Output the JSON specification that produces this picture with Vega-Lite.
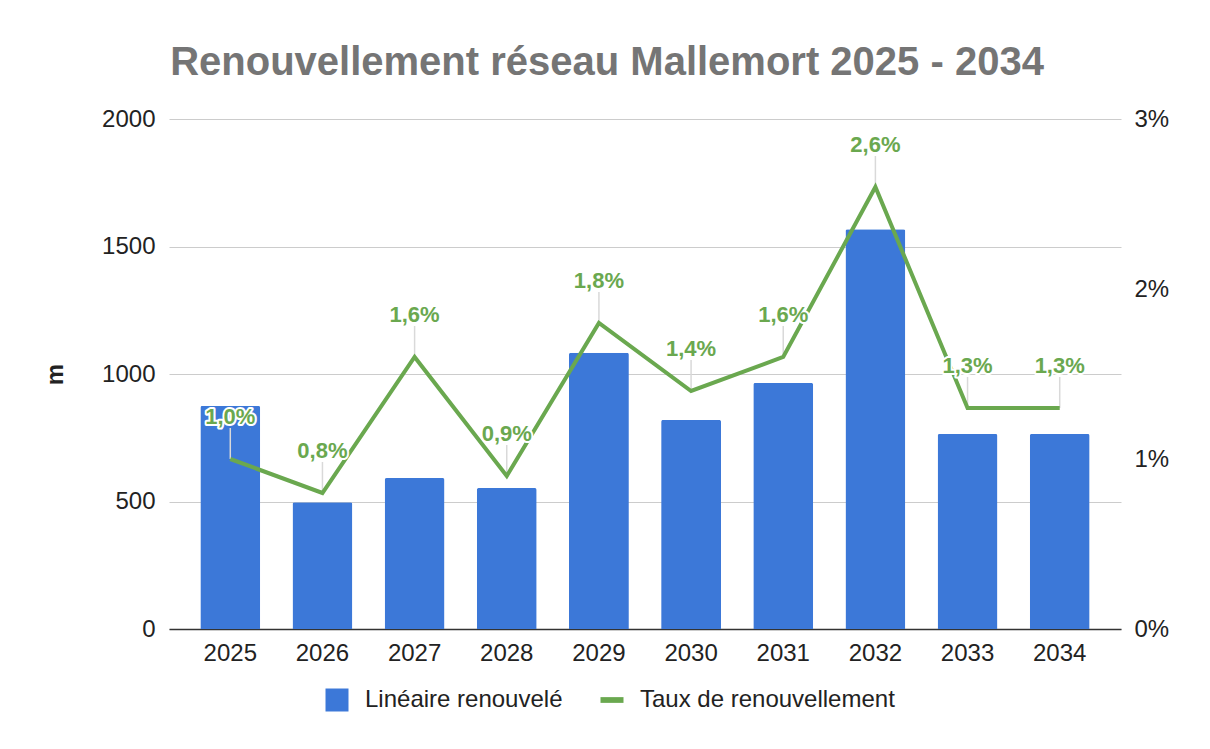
{
  "$schema": "https://vega.github.io/schema/vega-lite/v6.json",
  "width": 952,
  "height": 510,
  "autosize": {"type": "none"},
  "padding": {"left": 169, "top": 119, "right": 89, "bottom": 120},
  "background": "white",
  "title": {
    "text": "Renouvellement réseau Mallemort 2025 - 2034",
    "anchor": "middle",
    "dx": -38,
    "fontSize": 40,
    "font": "Liberation Sans",
    "fontWeight": "bold",
    "color": "#757575",
    "offset": -8,
    "baseline": "alphabetic"
  },
  "data": {
    "values": [
      {"year": "2025", "lineaire": 875, "taux": 0.010},
      {"year": "2026", "lineaire": 497, "taux": 0.008},
      {"year": "2027", "lineaire": 592, "taux": 0.016},
      {"year": "2028", "lineaire": 553, "taux": 0.009},
      {"year": "2029", "lineaire": 1083, "taux": 0.018},
      {"year": "2030", "lineaire": 820, "taux": 0.014},
      {"year": "2031", "lineaire": 965, "taux": 0.016},
      {"year": "2032", "lineaire": 1568, "taux": 0.026},
      {"year": "2033", "lineaire": 765, "taux": 0.013},
      {"year": "2034", "lineaire": 765, "taux": 0.013}
    ]
  },
  "encoding": {
    "x": {
      "field": "year",
      "type": "ordinal",
      "scale": {"paddingInner": 0.35, "paddingOuter": 0.34},
      "axis": {
        "title": null,
        "labelAngle": 0,
        "ticks": false,
        "labelPadding": 12,
        "domainColor": "#333333",
        "domainWidth": 1.5,
        "grid": false
      }
    }
  },
  "layer": [
    {
      "mark": {"type": "bar", "color": "#3c78d8", "cornerRadiusTopLeft": 2, "cornerRadiusTopRight": 2},
      "encoding": {
        "y": {
          "field": "lineaire",
          "type": "quantitative",
          "scale": {"domain": [0, 2000]},
          "axis": {
            "title": "m",
            "values": [0, 500, 1000, 1500, 2000],
            "format": "d",
            "grid": true,
            "gridColor": "#cccccc",
            "gridWidth": 1,
            "domain": false,
            "ticks": false,
            "labelPadding": 14,
            "titleFontWeight": "bold",
            "titleFontSize": 24,
            "titlePadding": 34
          }
        },
        "color": {
          "datum": "Linéaire renouvelé",
          "type": "nominal",
          "scale": {
            "domain": ["Linéaire renouvelé", "Taux de renouvellement"],
            "range": ["#3c78d8", "#6aa84f"]
          },
          "legend": {
            "orient": "none",
            "legendX": 156,
            "legendY": 569,
            "direction": "horizontal",
            "title": null,
            "labelFontSize": 24,
            "labelColor": "#222222",
            "labelLimit": 500,
            "symbolSize": 529,
            "labelOffset": 16,
            "columnPadding": 37,
            "symbolStrokeWidth": 0,
            "encode": {
              "symbols": {
                "update": {
                  "shape": {"signal": "datum.value === 'Linéaire renouvelé' ? 'square' : 'M-1,-0.25H1V0.25H-1Z'"},
                  "fill": {"signal": "datum.value === 'Linéaire renouvelé' ? '#3c78d8' : '#6aa84f'"},
                  "strokeWidth": {"value": 0},
                  "opacity": {"value": 1}
                }
              }
            }
          }
        }
      }
    },
    {
      "encoding": {
        "y": {
          "field": "taux",
          "type": "quantitative",
          "scale": {"domain": [0, 0.03]},
          "axis": {
            "orient": "right",
            "title": null,
            "values": [0, 0.01, 0.02, 0.03],
            "format": ".0%",
            "grid": false,
            "domain": false,
            "ticks": false,
            "labelPadding": 13
          }
        }
      },
      "layer": [
        {
          "mark": {"type": "rule", "color": "#d9d9d9", "strokeWidth": 1.5, "y2Offset": -31},
          "encoding": {"y2": {"field": "taux"}}
        },
        {
          "mark": {"type": "line", "color": "#6aa84f", "strokeWidth": 4},
          "encoding": {"color": {"datum": "Taux de renouvellement", "type": "nominal"}}
        },
        {
          "mark": {"type": "text", "dy": -42, "fontSize": 22, "fontWeight": "bold", "font": "Liberation Sans", "stroke": "white", "strokeWidth": 4, "strokeJoin": "round", "fill": "white", "baseline": "middle"},
          "encoding": {"text": {"field": "taux", "format": ".1%"}}
        },
        {
          "mark": {"type": "text", "dy": -42, "fontSize": 22, "fontWeight": "bold", "font": "Liberation Sans", "fill": "#6aa84f", "baseline": "middle"},
          "encoding": {"text": {"field": "taux", "format": ".1%"}}
        }
      ]
    }
  ],
  "resolve": {"scale": {"y": "independent"}},
  "config": {
    "font": "Liberation Sans",
    "view": {"stroke": null},
    "axis": {
      "labelFontSize": 24,
      "labelColor": "#222222",
      "labelFont": "Liberation Sans",
      "titleColor": "#222222",
      "titleFont": "Liberation Sans"
    },
    "legend": {"labelFont": "Liberation Sans"},
    "locale": {
      "number": {"decimal": ",", "thousands": " ", "grouping": [3], "currency": ["", " €"]}
    }
  }
}
